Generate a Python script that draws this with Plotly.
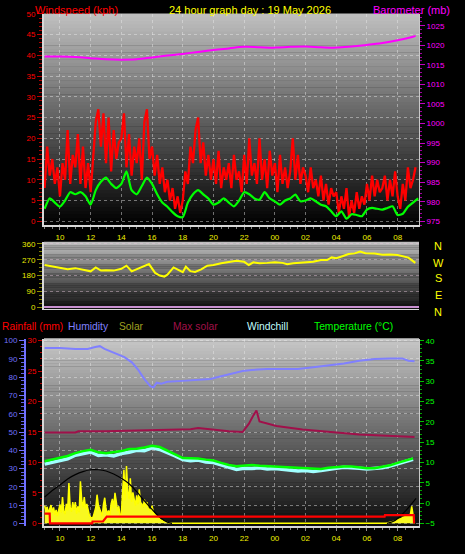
import pandas as pd
import plotly.graph_objects as go

W, H = 465, 554
BASE = pd.Timestamp("2026-05-18 00:00")
FONT = "Liberation Sans, Arial, sans-serif"

# ---------------- data ----------------
# wind gust (kph), every 10 minutes from 09:00
gust_start_h = 9.0
gust_step_min = 10
gust_kph = [
    8, 18, 11, 15, 9, 13,
    6, 14, 10, 22, 9, 16,
    13, 21, 9, 18, 8, 14,
    7, 16, 24, 27, 18, 26,
    14, 25, 12, 22, 15, 19,
    20, 26, 13, 21, 11, 18,
    14, 20, 10, 24, 27, 15,
    18, 11, 16, 9, 13, 7,
    10, 5, 8, 3, 6, 2,
    5, 12, 9, 18, 14, 22,
    25, 14, 19, 11, 16, 10,
    15, 9, 17, 8, 13, 10,
    14, 8, 16, 10, 12, 7,
    16, 9, 20, 11, 14, 9,
    20, 10, 15, 8, 17, 11,
    14, 7, 16, 9, 13, 8,
    12, 20, 10, 16, 9, 13,
    11, 7, 13, 8, 10, 6,
    11, 5, 9, 4, 8, 6,
    7, 2, 6, 3, 8, 1,
    5, 2, 7, 3, 6, 4,
    9, 5, 11, 6, 10, 7,
    8, 11, 5, 10, 6, 12,
    6, 3, 9, 5, 13, 8,
    10, 13,
]
# average wind speed (kph), every 20 minutes from 09:00
avg_start_h = 9.0
avg_step_min = 20
avg_kph = [
    3, 5.5, 4.5, 3.5, 5, 7, 6.5, 7, 6, 4, 7.5, 9.5,
    10.5, 9, 8, 9, 12, 7.5, 6.5, 8.5, 10.5, 9, 6.5, 4.5,
    3.5, 2.2, 1.2, 1, 4.5, 6.5, 7.5, 6.5, 5.5, 4, 4.5, 5.5,
    4.5, 3.6, 5, 7, 6.5, 5.5, 5.2, 7, 5.5, 4.8, 4, 5,
    5.5, 6.4, 4.8, 5, 5.5, 4.8, 4, 3.6, 2.4, 1.2, 2.4, 0.6,
    1.7, 1.5, 1.2, 2.8, 3.2, 3, 2.8, 3.2, 3.6, 1.5, 1.8, 3.5,
    4.5, 5.5,
]
# barometer (mb)
baro_hours = [9, 10, 11, 12, 13, 14, 15, 16, 17, 18, 19, 20, 21, 22, 23, 24,
              25, 26, 27, 28, 29, 30, 31, 32, 33, 33.17]
baro_mb = [1017.1, 1017.1, 1017.0, 1016.7, 1016.4, 1016.3, 1016.4, 1016.9,
           1017.4, 1017.8, 1018.3, 1018.8, 1019.2, 1019.6, 1019.5, 1019.4,
           1019.6, 1019.7, 1019.5, 1019.4, 1019.7, 1020.1, 1020.6, 1021.3,
           1022.2, 1022.4]
# wind direction (degrees)
dir_hours = [9.0, 9.5, 10.0, 10.5, 11.0, 11.5, 12.0, 12.33, 12.67, 13.0, 13.5,
             14.0, 14.33, 14.67, 15.0, 15.5, 15.8, 16.2, 16.5, 16.8, 17.0,
             17.4, 17.7, 18.0, 18.2, 18.5, 18.8, 19.2, 19.6, 20.0, 20.5, 21.0,
             21.5, 22.0, 22.3, 22.6, 23.0, 23.5, 24.0, 24.5, 24.8, 25.2, 25.6,
             26.0, 26.5, 27.0, 27.4, 27.7, 28.0, 28.4, 28.8, 29.2, 29.55,
             29.9, 30.5, 31.0, 31.5, 32.0, 32.4, 32.7, 33.0, 33.15]
dir_deg = [240, 232, 225, 216, 222, 212, 204, 226, 208, 210, 208,
           218, 236, 204, 215, 232, 245, 195, 180, 174, 185,
           226, 210, 199, 230, 205, 200, 215, 236, 240, 250, 255,
           264, 258, 240, 255, 250, 252, 255, 252, 244, 250, 252,
           256, 258, 268, 268, 283, 278, 290, 302, 306, 316,
           307, 305, 298, 300, 297, 290, 282, 262, 252]
# temperature / windchill (deg C), every 30 minutes from 09:00
temp_start_h = 9.0
temp_step_min = 30
temp_c = [10.3, 10.7, 11.1, 11.6, 12.3, 12.8, 13.1, 12.5, 12.3, 12.5,
          12.8, 13.3, 13.4, 13.7, 14.1, 13.8, 13.0, 12.0, 11.1, 11.0,
          11.0, 10.7, 10.5, 9.9, 9.4, 9.1, 9.2, 9.4, 9.2, 9.1,
          9.0, 8.9, 8.7, 8.6, 8.5, 8.4, 8.4, 8.7, 8.9, 9.0,
          9.0, 8.8, 8.6, 8.6, 8.9, 9.3, 9.9, 10.4, 11.0]
chill_c = [9.6, 10.1, 10.5, 10.9, 11.8, 12.1, 12.6, 11.7, 11.9, 11.6,
           12.2, 12.5, 13.0, 12.9, 13.6, 13.2, 12.5, 11.6, 10.7, 10.4,
           10.6, 10.1, 10.0, 9.4, 8.8, 8.3, 8.6, 8.5, 8.7, 8.4,
           8.5, 8.3, 8.1, 7.9, 8.0, 7.8, 8.0, 8.4, 8.6, 8.8,
           8.8, 8.6, 8.4, 8.5, 8.7, 9.1, 9.6, 10.1, 10.8]
# humidity (%)
hum_hours = [9.0, 10.0, 11.0, 11.8, 12.3, 12.6, 12.9, 13.3, 13.8, 14.2, 14.7,
             15.1, 15.5, 15.9, 16.1, 16.3, 16.6, 17.0, 18.0, 19.0, 19.8, 20.5,
             21.2, 21.9, 22.5, 23.5, 24.5, 25.5, 26.5, 27.5, 28.5, 29.5, 30.5,
             31.5, 32.3, 32.7, 33.1]
hum_pct = [96, 96, 95.5, 95.5, 96.5, 97, 95.5, 94, 92.5, 91, 88,
           84, 79, 75, 74.5, 77, 76.5, 77.5, 78, 78.5, 79, 80.5,
           82, 83.4, 84, 84.5, 84.5, 84.5, 85.5, 86.5, 87.5, 89, 90,
           90.3, 90.3, 89, 88.8]
# "max solar" crimson line (plotted on the -5..40 scale)
msl_hours = [9.0, 11.0, 11.2, 13.0, 15.0, 16.5, 18.5, 19.0, 19.5, 20.2, 21.0,
             21.9, 22.3, 22.6, 22.8, 23.0, 24.1, 25.8, 28.0, 29.5, 31.3, 33.1]
msl_val = [17.4, 17.4, 17.7, 17.7, 17.9, 18.1, 18.2, 18.5, 18.3, 17.9, 17.7,
           17.5, 19.5, 21.6, 22.8, 20.1, 19.0, 18.1, 17.4, 16.9, 16.6, 16.3]
# solar (plotted on rainfall scale), every 5 minutes
solar_day_start_h = 9.0
solar_day = [
    2.9, 2.2, 2.7, 1.6, 2.4, 3.0, 1.8, 2.6, 1.4, 2.2, 1.2, 2.0,
    3.1, 1.8, 4.3, 2.0, 1.5, 3.2, 2.1, 6.6, 2.6, 1.9, 3.5, 2.2,
    3.5, 1.6, 2.8, 1.8, 6.9, 3.8, 2.6, 4.3, 2.4, 3.2, 2.3, 1.3,
    1.0, 0.8, 1.1, 2.0, 2.6, 4.7, 3.0, 2.4, 1.8, 1.2, 3.1, 4.2,
    2.4, 1.5, 2.1, 1.3, 3.2, 4.0, 2.5, 5.0, 3.6, 2.0, 2.8, 1.2,
    1.6, 4.5, 8.8, 3.8, 9.4, 5.3, 4.0, 7.4, 3.5, 5.1, 3.8, 2.9,
    4.6, 3.1, 5.6, 3.4, 3.2, 2.6, 3.9, 2.8, 3.5, 2.4, 2.3, 1.9,
    2.9, 1.8, 1.5, 1.2, 1.1, 0.9, 0.7, 0.5, 0.5, 0.3, 0.3, 0.2,
    0.1, 0.1, 0.0,
]
solar_morn_start_h = 31.25
solar_morn = [0.0, 0.05, 0.1, 0.1, 0.2, 0.25, 0.35, 0.4, 0.5, 0.55, 0.7, 0.75,
              0.8, 0.95, 1.0, 1.1, 1.15, 1.3, 1.4, 1.5, 2.8, 1.6, 0.0]
solar_step_min = 5
# theoretical max solar curve (black)
curve_hours = [9.0, 9.5, 10.0, 10.5, 11.0, 11.5, 12.0, 12.5, 13.0, 13.5, 14.0,
               14.5, 15.0, 15.5, 16.0, 16.5, 17.0, 17.3, 24.0, 31.3, 31.7, 32.0,
               32.5, 33.0, 33.2]
curve_val = [4.3, 5.4, 6.3, 7.3, 8.0, 8.5, 8.8, 8.8, 8.6, 8.1, 7.4,
             6.5, 5.2, 3.7, 2.3, 1.0, 0.2, 0.0, None, 0.0, 0.3, 0.8,
             2.0, 3.5, 4.1]
# rainfall (mm)
rain_hours = [9.0, 9.33, 9.35, 12.1, 12.12, 12.8, 13.05, 31.15, 31.17, 33.05, 33.07]
rain_mm = [1.6, 1.6, 0, 0, 0.3, 0.3, 1.1, 1.1, 1.35, 1.35, 0]

x_tick_step_h = 2

# ---------------- helpers ----------------
def hrs(h):
    return [BASE + pd.Timedelta(hours=v) for v in h]

def grid(start_h, step_min, n):
    return [BASE + pd.Timedelta(hours=start_h) + pd.Timedelta(minutes=step_min * i)
            for i in range(n)]

def px(p):
    return p / W

def py(p):
    return 1 - p / H

XDOM = [px(44), px(419)]
XRANGE = hrs([8.96, 33.39])

fig = go.Figure()

# panel 1
fig.add_trace(go.Scatter(x=grid(gust_start_h, gust_step_min, len(gust_kph)), y=gust_kph,
                         mode="lines", line=dict(color="#ff0000", width=2.3),
                         xaxis="x", yaxis="y"))
fig.add_trace(go.Scatter(x=grid(avg_start_h, avg_step_min, len(avg_kph)), y=avg_kph,
                         mode="lines", line=dict(color="#00ff00", width=2.2, shape="spline",
                                                 smoothing=0.6),
                         xaxis="x", yaxis="y"))
fig.add_trace(go.Scatter(x=hrs(baro_hours), y=baro_mb, mode="lines",
                         line=dict(color="#ff00ff", width=2, shape="spline"),
                         xaxis="x", yaxis="y2"))
# panel 2
fig.add_trace(go.Scatter(x=hrs(dir_hours), y=dir_deg, mode="lines",
                         line=dict(color="#ffff00", width=2),
                         xaxis="x2", yaxis="y3"))
# panel 3
tgrid = grid(temp_start_h, temp_step_min, len(temp_c))
fig.add_trace(go.Scatter(x=tgrid, y=chill_c, mode="lines",
                         line=dict(color="#a0ffff", width=3.5),
                         xaxis="x3", yaxis="y4"))
fig.add_trace(go.Scatter(x=tgrid, y=temp_c, mode="lines",
                         line=dict(color="#00ff00", width=2.5),
                         xaxis="x3", yaxis="y4"))
fig.add_trace(go.Scatter(x=hrs(msl_hours), y=msl_val, mode="lines",
                         line=dict(color="#a0104a", width=2),
                         xaxis="x3", yaxis="y4"))
solar_x = (grid(solar_day_start_h, solar_step_min, len(solar_day))
           + grid(solar_morn_start_h, solar_step_min, len(solar_morn)))
fig.add_trace(go.Scatter(x=solar_x, y=solar_day + solar_morn, mode="lines",
                         line=dict(color="#ffff00", width=1.5),
                         fill="tozeroy", fillcolor="#f8f820",
                         xaxis="x3", yaxis="y5"))
fig.add_trace(go.Scatter(x=hrs(curve_hours), y=curve_val, mode="lines",
                         line=dict(color="#000000", width=1.2, shape="spline"),
                         connectgaps=False, xaxis="x3", yaxis="y5"))
fig.add_trace(go.Scatter(x=hrs(rain_hours), y=rain_mm, mode="lines",
                         line=dict(color="#ff0000", width=2.2),
                         xaxis="x3", yaxis="y5"))
fig.add_trace(go.Scatter(x=hrs(hum_hours), y=hum_pct, mode="lines",
                         line=dict(color="#8080ff", width=2),
                         xaxis="x3", yaxis="y6"))

# ---------------- gradient backgrounds ----------------
shapes = []
def gradient(xref, yref, top, bottom, n=60):
    for i in range(n):
        f = (i + 0.5) / n
        c = [int(round(bottom[k] + (top[k] - bottom[k]) * f)) for k in range(3)]
        shapes.append(dict(type="rect", xref=xref, yref=yref, x0=0, x1=1,
                           y0=i / n, y1=(i + 1) / n + 0.002, layer="below",
                           line=dict(width=0), fillcolor=f"rgb({c[0]},{c[1]},{c[2]})"))

gradient("x domain", "y domain", (192, 192, 192), (0, 0, 0))
gradient("x2 domain", "y3 domain", (192, 192, 192), (16, 16, 16))
gradient("x3 domain", "y4 domain", (200, 200, 200), (12, 12, 12))

GRID = "rgba(235,235,235,0.45)"
BORDER = "#d8d8d8"

xcommon = dict(type="date", domain=XDOM, range=XRANGE, dtick=x_tick_step_h * 3600000,
               tickformat="%H", tickfont=dict(color="#f0f000", size=8, family=FONT),
               ticks="outside", ticklen=3, tickcolor="#909090",
               minor=dict(dtick=1800000, ticks="outside", ticklen=2, tickcolor="#808080"),
               showline=True, linecolor=BORDER, linewidth=2,
               showgrid=True, gridcolor=GRID, griddash="dot", gridwidth=1, zeroline=False)

fig.update_layout(
    width=W, height=H, autosize=False,
    margin=dict(l=0, r=0, t=0, b=0),
    paper_bgcolor="#000000", plot_bgcolor="rgba(0,0,0,0)",
    showlegend=False,
    shapes=shapes,
    font=dict(family=FONT),
    xaxis=dict(anchor="y", **xcommon),
    xaxis2=dict(anchor="y3", type="date", domain=XDOM, range=XRANGE, matches="x",
                showticklabels=False, ticks="", showgrid=False, zeroline=False,
                showline=True, linecolor=BORDER, linewidth=1),
    xaxis3=dict(anchor="y4", matches="x", **{k: v for k, v in xcommon.items() if k != "range"}),
    yaxis=dict(domain=[py(224), py(10)], range=[-0.95, 50], anchor="x",
               dtick=5, tick0=0, tickfont=dict(color="#ff0000", size=8, family=FONT),
               ticks="outside", ticklen=5, tickcolor="#c00000",
               minor=dict(dtick=1, ticks="outside", ticklen=3, tickcolor="#b00000"),
               showline=True, linecolor=BORDER, linewidth=2,
               showgrid=True, gridcolor=GRID, griddash="dot", zeroline=False),
    yaxis2=dict(overlaying="y", side="right", anchor="x", range=[974.0, 1028.03],
                dtick=5, tick0=975, tickfont=dict(color="#ff00ff", size=8, family=FONT),
                ticks="outside", ticklen=5, tickcolor="#c000c0",
                minor=dict(dtick=1, ticks="outside", ticklen=2, tickcolor="#a000a0"),
                showline=True, linecolor="#c8c8c8", linewidth=1,
                showgrid=False, zeroline=False),
    yaxis3=dict(domain=[py(309), py(241)], anchor="x2", range=[-11, 371],
                tickvals=[0, 90, 180, 270, 360],
                tickfont=dict(color="#e8e800", size=8, family=FONT),
                ticks="outside", ticklen=5, tickcolor="#909000",
                minor=dict(dtick=22.5, ticks="outside", ticklen=3, tickcolor="#808000"),
                showline=True, linecolor=BORDER, linewidth=2,
                showgrid=True, gridcolor="rgba(230,200,220,0.45)", griddash="dot",
                zeroline=True, zerolinecolor="#c890d0", zerolinewidth=2),
    yaxis4=dict(domain=[py(529), py(339)], anchor="x3", side="right",
                range=[-5.73, 40.49], dtick=5, tick0=0,
                tickfont=dict(color="#00ff00", size=8, family=FONT),
                ticks="outside", ticklen=4, tickcolor="#00c000",
                minor=dict(dtick=1, ticks="outside", ticklen=2, tickcolor="#00a000"),
                showline=True, linecolor="#c8c8c8", linewidth=1,
                showgrid=False, zeroline=False),
    yaxis5=dict(overlaying="y4", anchor="x3", side="left", range=[-0.49, 30.32],
                dtick=5, tick0=0, tickfont=dict(color="#ff0000", size=8, family=FONT),
                ticks="outside", ticklen=4, tickcolor="#c00000",
                minor=dict(dtick=1, ticks="outside", ticklen=2, tickcolor="#b00000"),
                showline=True, linecolor=BORDER, linewidth=2,
                showgrid=False, zeroline=False),
    yaxis6=dict(overlaying="y4", anchor="free", side="left", position=px(25),
                range=[-1.62, 101.08], dtick=10, tick0=0,
                tickfont=dict(color="#7070ff", size=8, family=FONT),
                ticks="outside", ticklen=5, tickcolor="#7070ff",
                minor=dict(dtick=2, ticks="outside", ticklen=3, tickcolor="#6060e0"),
                showline=True, linecolor="#7070ff", linewidth=2,
                showgrid=True, gridcolor=GRID, griddash="dot", zeroline=False),
    yaxis7=dict(overlaying="y4", anchor="free", side="right", position=px(441),
                range=[-5.73, 40.49], dtick=5, tick0=0,
                tickfont=dict(color="#a01048", size=8, family=FONT),
                ticks="outside", ticklen=4, tickcolor="#a01048",
                showline=True, linecolor="#a01048", linewidth=2,
                showgrid=False, zeroline=False),
)

# ---------------- text ----------------
def label(text, x, y, color, size=11, xanchor="left"):
    fig.add_annotation(text=text, x=x, y=y, xref="paper", yref="paper",
                       xanchor=xanchor, yanchor="middle", showarrow=False,
                       font=dict(color=color, size=size, family=FONT))

label("Windspeed (kph)", px(33), py(6), "#ff0000")
label("24 hour graph day : 19 May 2026", px(250), py(6), "#ffff00", xanchor="center")
label("Barometer (mb)", px(371), py(6), "#ff00ff")

for txt, xl, col in [("Rainfall (mm)", 0, "#ff0000"), ("Humidity", 66, "#8080ff"),
                     ("Solar", 117, "#a0a020"), ("Max solar", 171, "#a01048"),
                     ("Windchill", 245, "#c0ffff"), ("Temperature (°C)", 312, "#00ff00")]:
    label(txt, px(xl), py(327), col, size=10.3)

for letter, yc in [("N", 245), ("W", 262), ("S", 278), ("E", 295), ("N", 312)]:
    label(letter, px(438), py(yc), "#ffff00", size=11, xanchor="center")

fig.write_html("out.html", config={"displayModeBar": False},
               post_script="document.body.style.margin='0';document.body.style.padding='0';")
